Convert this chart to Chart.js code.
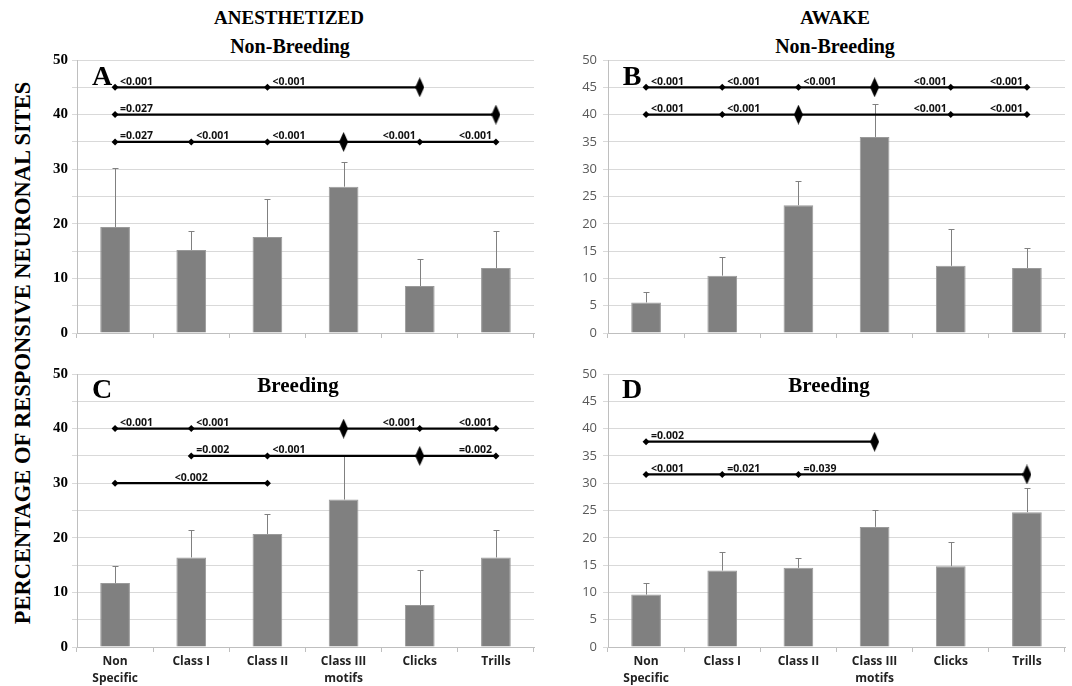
<!DOCTYPE html>
<html>
<head>
<meta charset="utf-8">
<script src="https://cdn.jsdelivr.net/npm/chart.js@4.4.0/dist/chart.umd.min.js"></script>
<style>
body { margin: 0; background: #fff; width: 1072px; height: 686px; overflow: hidden; position: relative; font-family: 'Liberation Serif', serif; }
.t { position: absolute; font-weight: bold; white-space: nowrap; transform: translate(-50%, -50%); color: #000; }
canvas { position: absolute; }
</style>
</head>
<body>
<div class="t" style="left:289px;top:18px;font-size:19px">ANESTHETIZED</div>
<div class="t" style="left:835px;top:18px;font-size:19px">AWAKE</div>
<div class="t" style="left:290px;top:46px;font-size:20px">Non-Breeding</div>
<div class="t" style="left:835px;top:46px;font-size:20px">Non-Breeding</div>
<div class="t" style="left:23px;top:353px;font-size:22.5px;transform:translate(-50%,-50%) rotate(-90deg)">PERCENTAGE OF RESPONSIVE NEURONAL SITES</div>

<canvas id="chartA" width="510" height="295" style="left:30px;top:50px"></canvas>
<canvas id="chartB" width="510" height="295" style="left:560px;top:50px"></canvas>
<canvas id="chartC" width="510" height="322" style="left:30px;top:364px"></canvas>
<canvas id="chartD" width="510" height="322" style="left:560px;top:364px"></canvas>

<div class="t" style="left:102px;top:76px;font-size:28px">A</div>
<div class="t" style="left:632px;top:76px;font-size:28px">B</div>
<div class="t" style="left:102px;top:389px;font-size:28px">C</div>
<div class="t" style="left:632px;top:389px;font-size:28px">D</div>
<div class="t" style="left:298px;top:385px;font-size:21px">Breeding</div>
<div class="t" style="left:829px;top:385px;font-size:21px">Breeding</div>

<script>
// categories (shared by all four panels)
const categories = [['Non', 'Specific'], 'Class I', 'Class II', ['Class III', 'motifs'], 'Clicks', 'Trills'];

// means and upper error (SE) for each panel
const meanA = [19.4, 15.2, 17.6, 26.8, 8.6, 11.9];
const errA  = [10.8, 3.4, 6.9, 4.5, 4.9, 6.7];
const meanB = [5.6, 10.5, 23.4, 35.9, 12.3, 11.9];
const errB  = [2.0, 3.5, 4.5, 6.0, 6.8, 3.6];
const meanC = [11.7, 16.4, 20.7, 27.0, 7.7, 16.4];
const errC  = [3.2, 5.1, 3.7, 8.2, 6.4, 5.1];
const meanD = [9.6, 14.0, 14.5, 22.0, 14.8, 24.7];
const errD  = [2.1, 3.4, 1.8, 3.1, 4.4, 4.4];

// significance rows: 's' small marker, 'B' reference (big) marker
const sigA = [
    { level: 45, marks: ['s', '', 's', '', 'B', ''], p: ['<0.001', '', '<0.001', '', '', ''] },
    { level: 40, marks: ['s', '', '', '', '', 'B'], p: ['=0.027', '', '', '', '', ''] },
    { level: 35, marks: ['s', 's', 's', 'B', 's', 's'], p: ['=0.027', '<0.001', '<0.001', '', '<0.001', '<0.001'] }
];
const sigB = [
    { level: 45, marks: ['s', 's', 's', 'B', 's', 's'], p: ['<0.001', '<0.001', '<0.001', '', '<0.001', '<0.001'] },
    { level: 40, marks: ['s', 's', 'B', '', 's', 's'], p: ['<0.001', '<0.001', '', '', '<0.001', '<0.001'] }
];
const sigC = [
    { level: 40, marks: ['s', 's', '', 'B', 's', 's'], p: ['<0.001', '<0.001', '', '', '<0.001', '<0.001'] },
    { level: 35, marks: ['', 's', 's', '', 'B', 's'], p: ['', '=0.002', '<0.001', '', '', '=0.002'] },
    { level: 30, marks: ['s', '', 's', '', '', ''], p: ['', '<0.002', '', '', '', ''] }
];
const sigD = [
    { level: 37.6, marks: ['s', '', '', 'B', '', ''], p: ['=0.002', '', '', '', '', ''] },
    { level: 31.6, marks: ['s', 's', 's', '', '', 'B'], p: ['<0.001', '=0.021', '=0.039', '', '', ''] }
];

Chart.defaults.animation = false;
Chart.defaults.devicePixelRatio = 1;

// tall narrow diamond used for the reference group
function bigDiamond() {
    const c = document.createElement('canvas');
    c.width = 9; c.height = 20;
    const g = c.getContext('2d');
    g.fillStyle = '#000';
    g.beginPath();
    g.moveTo(4.5, 0); g.lineTo(9, 10); g.lineTo(4.5, 20); g.lineTo(0, 10);
    g.closePath();
    g.fill();
    return c;
}
const diamondImg = bigDiamond();

// upward-only error bars, drawn right after the bars
const errorBars = {
    id: 'errorBars',
    afterDatasetDraw(chart, args, opts) {
        if (args.index !== 0) return;
        const ctx = chart.ctx;
        const y = chart.scales.y;
        const vals = chart.data.datasets[0].data;
        ctx.save();
        ctx.strokeStyle = '#808080';
        ctx.lineWidth = 1;
        args.meta.data.forEach((bar, i) => {
            const top = Math.round(y.getPixelForValue(vals[i] + opts.values[i])) + 0.5;
            const x = Math.round(bar.x) + 0.5;
            ctx.beginPath();
            ctx.moveTo(x, bar.y);
            ctx.lineTo(x, top);
            ctx.moveTo(x - 3, top);
            ctx.lineTo(x + 3, top);
            ctx.stroke();
        });
        ctx.restore();
    }
};

// p-value texts next to the markers
const pLabels = {
    id: 'pLabels',
    afterDatasetsDraw(chart) {
        const ctx = chart.ctx;
        const xs = chart.scales.x, ys = chart.scales.y;
        ctx.save();
        ctx.fillStyle = '#111';
        ctx.font = 'bold 10.5px "Open Sans"';
        ctx.textBaseline = 'alphabetic';
        chart.data.datasets.forEach(ds => {
            if (!ds.sigRow) return;
            const row = ds.sigRow;
            const big = row.marks.indexOf('B');
            const yy = ys.getPixelForValue(row.level) - 2.5;
            row.p.forEach((txt, i) => {
                if (!txt) return;
                const xx = xs.getPixelForValue(i);
                if (!row.marks[i]) {
                    ctx.textAlign = 'center';
                    ctx.fillText(txt, xx, yy);
                } else if (big >= 0 && i > big) {
                    ctx.textAlign = 'right';
                    ctx.fillText(txt, xx - 4, yy);
                } else {
                    ctx.textAlign = 'left';
                    ctx.fillText(txt, xx + 5, yy);
                }
            });
        });
        ctx.restore();
    }
};

function makePanel(id, means, errs, sig, box, area, serifAxis, showX) {
    const lineSets = sig.map(row => ({
        type: 'line',
        data: row.marks.map(m => m ? row.level : null),
        sigRow: row,
        spanGaps: true,
        borderColor: '#000',
        borderWidth: 2.2,
        pointStyle: c => row.marks[c.dataIndex] === 'B' ? diamondImg : 'rectRot',
        pointRadius: 3.5,
        pointBorderWidth: 0,
        pointBackgroundColor: '#000',
        order: 0
    }));

    const yTickFont = serifAxis
        ? { family: 'Liberation Serif', weight: 'bold', size: 15 }
        : { family: 'Open Sans', size: 13 };

    new Chart(document.getElementById(id), {
        type: 'bar',
        data: {
            labels: categories,
            datasets: [{
                data: means,
                backgroundColor: '#808080',
                borderColor: '#9a9a9a',
                borderWidth: 1,
                categoryPercentage: 1,
                barPercentage: 0.39,
                order: 1
            }].concat(lineSets)
        },
        options: {
            responsive: false,
            layout: { padding: { top: area.top - box.top, right: box.left + box.w - area.right, left: 0, bottom: 0 } },
            plugins: {
                legend: { display: false },
                tooltip: { enabled: false },
                errorBars: { values: errs }
            },
            scales: {
                x: {
                    grid: { drawOnChartArea: false, drawTicks: true, tickLength: 5, color: '#bfbfbf', offset: true },
                    border: { color: '#bfbfbf' },
                    ticks: {
                        display: showX,
                        padding: 1,
                        color: '#222',
                        font: { family: 'Open Sans', weight: 'bold', size: 12, lineHeight: 1.4 },
                        maxRotation: 0,
                        autoSkip: false
                    },
                    afterFit(s) {
                        s.height = box.top + box.h - area.bottom;
                        s.paddingLeft = 0; s.paddingRight = 0;
                    }
                },
                y: {
                    min: 0,
                    max: 50,
                    grid: { color: '#d9d9d9', tickLength: 5 },
                    border: { color: '#bfbfbf' },
                    ticks: {
                        stepSize: 5,
                        padding: serifAxis ? 4 : 6,
                        color: serifAxis ? '#000' : '#595959',
                        font: yTickFont,
                        callback: v => (serifAxis && v % 10 !== 0) ? '' : v
                    },
                    afterFit(s) {
                        s.width = area.left - box.left;
                        s.paddingTop = 0; s.paddingBottom = 0;
                    }
                }
            }
        },
        plugins: [errorBars, pLabels]
    });
}

makePanel('chartA', meanA, errA, sigA, { left: 30, top: 50, w: 510, h: 295 }, { left: 77, top: 60, right: 534, bottom: 333 }, true, false);
makePanel('chartB', meanB, errB, sigB, { left: 560, top: 50, w: 510, h: 295 }, { left: 608, top: 60, right: 1065, bottom: 333 }, false, false);
makePanel('chartC', meanC, errC, sigC, { left: 30, top: 364, w: 510, h: 322 }, { left: 77, top: 374, right: 534, bottom: 647 }, true, true);
makePanel('chartD', meanD, errD, sigD, { left: 560, top: 364, w: 510, h: 322 }, { left: 608, top: 374, right: 1065, bottom: 647 }, false, true);
</script>
</body>
</html>
